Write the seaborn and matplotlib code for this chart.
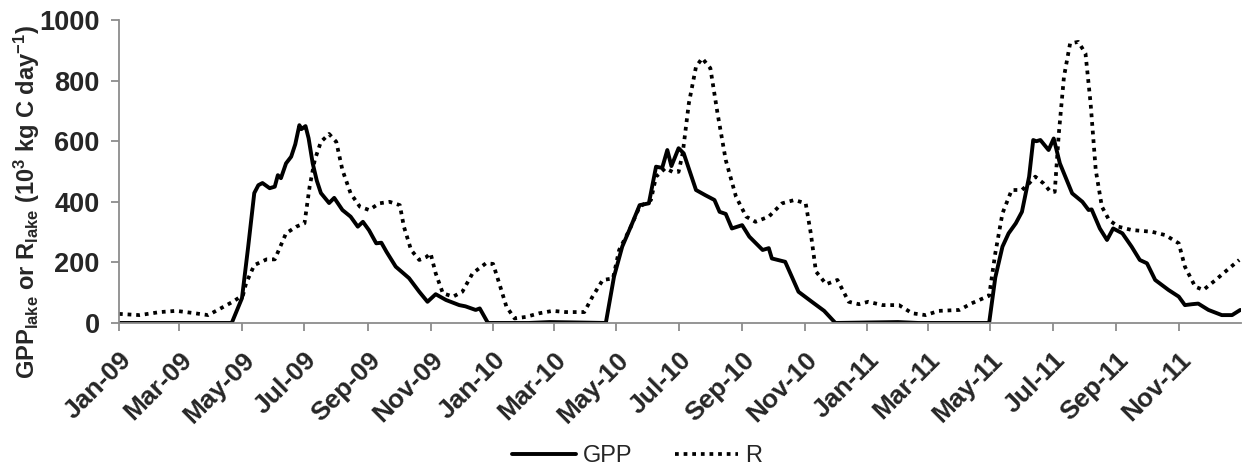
import numpy as np
import pandas as pd
import matplotlib
matplotlib.use("Agg")
import matplotlib.pyplot as plt
import seaborn as sns

# ---- data (days since 1 Jan 2009, values in 10^3 kg C day^-1) ----
gpp_days = [0, 110, 120, 126, 132, 136, 140, 147, 152, 155, 158, 163, 168, 172, 176, 178, 180, 182, 185, 189,
            193, 197, 205, 210, 218, 226, 233, 238, 244, 251, 256, 261, 270, 283, 293, 301, 309, 319, 332, 338,
            348, 352, 360, 400, 420, 440, 475, 483, 491, 500, 508, 517, 524, 530, 535, 539, 546, 551, 563, 572,
            581, 586, 592, 598, 608, 615, 628, 634, 637, 650, 663, 676, 688, 699, 760, 780, 849, 855, 862, 868,
            875, 881, 888, 892, 895, 899, 907, 912, 918, 930, 940, 946, 949, 957, 964, 970, 979, 988, 996, 1003,
            1011, 1024, 1034, 1040, 1047, 1053, 1063, 1076, 1086, 1094]
gpp_vals = [0, 0, 82, 250, 429, 455, 462, 445, 450, 488, 478, 527, 549, 590, 653, 640, 645, 650, 610, 527,
            470, 429, 396, 413, 373, 351, 318, 334, 306, 263, 265, 235, 186, 148, 103, 70, 95, 76, 59, 55,
            43, 48, 0, 0, 3, 2, 0, 153, 252, 323, 389, 395, 516, 512, 571, 518, 577, 560, 439, 422,
            406, 367, 360, 312, 323, 285, 241, 247, 213, 202, 103, 70, 40, 0, 3, 0, 0, 150, 252, 296,
            329, 367, 483, 604, 600, 604, 571, 609, 527, 428, 400, 373, 375, 312, 274, 312, 296, 252, 208, 197,
            142, 109, 87, 59, 62, 64, 43, 26, 26, 43]

r_days = [0, 20, 40, 56, 72, 87, 98, 111, 121, 124, 132, 144, 152, 163, 173, 181, 186, 191, 197, 205,
          212, 218, 226, 235, 244, 254, 264, 274, 278, 285, 293, 300, 304, 309, 316, 326, 335, 345, 358, 365,
          371, 378, 386, 397, 410, 423, 436, 454, 462, 472, 482, 488, 498, 508, 519, 524, 533, 540, 546, 550,
          556, 563, 569, 577, 584, 592, 602, 612, 621, 634, 647, 659, 670, 675, 680, 690, 701, 712, 722, 731,
          745, 761, 774, 787, 800, 820, 832, 849, 855, 862, 871, 881, 888, 894, 902, 909, 913, 917, 922, 928,
          936, 943, 948, 953, 959, 966, 975, 988, 1008, 1021, 1034, 1040, 1050, 1058, 1070, 1083, 1093]
r_vals = [30, 26, 36, 40, 33, 26, 46, 70, 92, 131, 191, 210, 210, 296, 318, 329, 450, 538, 598, 624,
          598, 505, 428, 384, 373, 395, 400, 389, 318, 241, 208, 218, 230, 164, 98, 87, 103, 164, 197, 195,
          131, 54, 15, 20, 32, 40, 36, 36, 87, 142, 147, 241, 307, 384, 406, 483, 511, 499, 499, 560,
          725, 846, 874, 841, 692, 538, 417, 351, 334, 351, 395, 406, 395, 296, 170, 128, 142, 70, 62, 70,
          59, 59, 32, 26, 40, 43, 65, 90, 230, 362, 439, 439, 461, 483, 461, 433, 433, 626, 813, 923,
          928, 890, 725, 505, 384, 340, 318, 307, 301, 290, 263, 186, 120, 109, 142, 180, 208]

tick_labels = ["Jan-09", "Mar-09", "May-09", "Jul-09", "Sep-09", "Nov-09",
               "Jan-10", "Mar-10", "May-10", "Jul-10", "Sep-10", "Nov-10",
               "Jan-11", "Mar-11", "May-11", "Jul-11", "Sep-11", "Nov-11"]

start = pd.Timestamp("2009-01-01")
gpp_df = pd.DataFrame({"date": start + pd.to_timedelta(gpp_days, unit="D"), "value": gpp_vals, "series": "GPP"})
r_df = pd.DataFrame({"date": start + pd.to_timedelta(r_days, unit="D"), "value": r_vals, "series": "R"})

sns.set_style("white")
plt.rcParams["font.family"] = ["Liberation Sans", "DejaVu Sans"]
plt.rcParams["mathtext.fontset"] = "custom"
plt.rcParams["mathtext.rm"] = "Liberation Sans:bold"
plt.rcParams["mathtext.bf"] = "Liberation Sans:bold"
plt.rcParams["mathtext.default"] = "bf"

fig = plt.figure(figsize=(12.42, 4.67), dpi=100)
ax = fig.add_axes([0.0958, 0.3084, 0.9032, 0.6486])

sns.lineplot(data=gpp_df, x="date", y="value", ax=ax, color="black", lw=2.8, label="GPP")
sns.lineplot(data=r_df, x="date", y="value", ax=ax, color="black", lw=2.7, label="R")
ax.lines[1].set_linestyle((0, (1, 1.3)))

ax.set_xlim(start, start + pd.Timedelta(days=1094.5))
ax.set_ylim(0, 1000)
ax.set_yticks(range(0, 1001, 200))

months = ["Jan", "Feb", "Mar", "Apr", "May", "Jun", "Jul", "Aug", "Sep", "Oct", "Nov", "Dec"]
tick_dates = [pd.Timestamp(year=2000 + int(lab[-2:]), month=months.index(lab[:3]) + 1, day=1)
              for lab in tick_labels]
ax.set_xticks(tick_dates)
ax.set_xticklabels(tick_labels, rotation=45, ha="right", rotation_mode="anchor",
                   fontsize=19, fontweight="bold")
for t in ax.get_yticklabels():
    t.set_fontsize(19.5)
    t.set_fontweight("bold")

for s in ["top", "right"]:
    ax.spines[s].set_visible(False)
for s in ["left", "bottom"]:
    ax.spines[s].set_color("#8c8c8c")
    ax.spines[s].set_linewidth(1.3)
ax.tick_params(axis="both", which="major", direction="out", length=6, width=1.3, color="#8c8c8c",
               left=True, bottom=True)
ax.tick_params(axis="y", pad=8)
ax.tick_params(axis="x", pad=12)

ax.set_xlabel("")
ax.set_ylabel(r"GPP$_{\mathbf{lake}}$ or R$_{\mathbf{lake}}$ (10$^{\mathbf{3}}$ kg C day$^{\mathbf{-1}}$)",
              fontsize=17, fontweight="bold")
ax.yaxis.set_label_coords(-0.069, 0.40)

ax.legend_.remove()
handles, labels = ax.get_legend_handles_labels()
fig.legend(handles, labels, loc="lower center", bbox_to_anchor=(0.513, -0.045), ncol=2, frameon=False,
           fontsize=17, handlelength=2.7, columnspacing=1.8, handletextpad=0.3)

fig.savefig("out.png", dpi=100)
